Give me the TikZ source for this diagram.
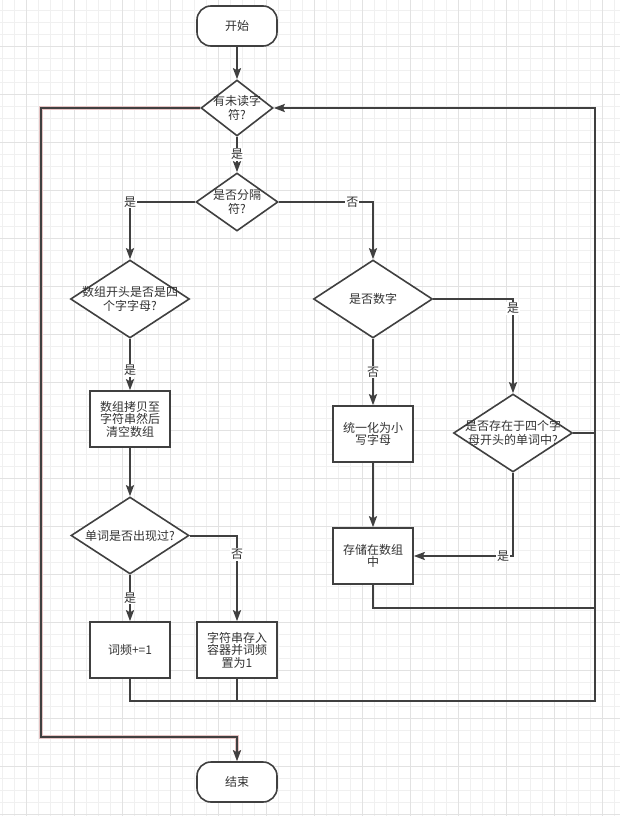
\documentclass[tikz,border=0pt]{standalone}
\usepackage{fontspec}
\setmainfont{Noto Sans CJK SC}
\usetikzlibrary{shapes.geometric,arrows.meta}

\definecolor{linegray}{HTML}{404040}
\definecolor{textgray}{HTML}{333333}
\definecolor{gridminor}{HTML}{F0F0F0}
\definecolor{gridmajor}{HTML}{E2E2E2}
\definecolor{glow}{HTML}{E6C4C4}

% text that may run past the diamond border
\newcommand{\dtext}[1]{\makebox[0pt]{\raisebox{-4.5pt}[0pt][0pt]{\begin{tabular}{@{}c@{}}#1\end{tabular}}}}

\tikzset{
  terminal/.style={draw=linegray, fill=white, line width=1.6pt, rounded corners=14pt,
    minimum width=80pt, minimum height=40pt, text=textgray},
  decision/.style={diamond, draw=linegray, fill=white, line width=1.6pt, inner sep=0pt, text=textgray},
  process/.style={rectangle, draw=linegray, fill=white, line width=1.6pt, minimum width=80pt,
    minimum height=56pt, align=center, inner sep=2pt, text=textgray},
  lbl/.style={fill=white, inner sep=1pt, text=textgray},
  flow/.style={draw=linegray, line width=2pt},
}

\begin{document}
\begin{tikzpicture}[x=1pt, y=-1pt, >={Stealth[length=11pt,width=8pt,inset=2pt]},
    font=\fontsize{12}{12.5}\selectfont]
  \useasboundingbox (0,0) rectangle (620,816);
  \fill[white] (0,0) rectangle (620,816);

  % background grid
  \foreach \x in {2,14,...,614} \draw[gridminor, line width=0.8pt] (\x,0) -- (\x,816);
  \foreach \y in {10,22,...,814} \draw[gridminor, line width=0.8pt] (0,\y) -- (620,\y);
  \foreach \x in {26,74,...,602} \draw[gridmajor, line width=0.8pt] (\x,0) -- (\x,816);
  \foreach \y in {46,94,...,814} \draw[gridmajor, line width=0.8pt] (0,\y) -- (620,\y);

  \node[terminal] (start) at (237,26) {开始};
  \node[decision, minimum width=72pt, minimum height=56pt] (unread) at (237,108) {\dtext{有未读字\\符?}};
  \node[decision, minimum width=82pt, minimum height=58pt] (separator) at (237,202) {\dtext{是否分隔\\符?}};

  \node[decision, minimum width=119pt, minimum height=78pt] (fourletter) at (130,299) {\dtext{数组开头是否是四\\个字字母?}};
  \node[process] (copyarray) at (130,419) {数组拷贝至\\字符串然后\\清空数组};
  \node[decision, minimum width=118pt, minimum height=77pt] (seen) at (130,535.5) {\dtext{单词是否出现过?}};
  \node[process] (count) at (130,650) {词频+=1};
  \node[process] (insert) at (237,650) {字符串存入\\容器并词频\\置为1};

  \node[decision, minimum width=119pt, minimum height=78pt] (isdigit) at (373,299) {\dtext{是否数字}};
  \node[process] (lowercase) at (373,434) {统一化为小\\写字母};
  \node[process] (store) at (373,556) {存储在数组\\中};
  \node[decision, minimum width=119pt, minimum height=78pt] (prefix) at (513,433) {\dtext{是否存在于四个字\\母开头的单词中?}};

  \node[terminal] (stop) at (237,782) {结束};

  \coordinate (leftrail) at (41,737);
  \coordinate (rightrail) at (595,701);
  \coordinate (storejoin) at (595,608);
  \coordinate (prefixjoin) at (595,433);

  \draw[flow, ->] (start) -- (unread);
  \draw[flow, ->] (unread) -- node[lbl] {是} (separator);
  \draw[flow, ->] (separator.west) -| node[lbl] {是} (fourletter.north);
  \draw[flow, ->] (separator.east) -| node[lbl, pos=0.39] {否} (isdigit.north);

  \draw[flow, ->] (fourletter) -- node[lbl, pos=0.62] {是} (copyarray);
  \draw[flow, ->] (copyarray) -- (seen);
  \draw[flow, ->] (seen) -- node[lbl] {是} (count);
  \draw[flow, ->] (seen.east) -| node[lbl, pos=0.61] {否} (insert.north);

  \draw[flow, ->] (isdigit) -- node[lbl] {否} (lowercase);
  \draw[flow, ->] (isdigit.east) -| node[lbl, pos=0.55] {是} (prefix.north);
  \draw[flow, ->] (lowercase) -- (store);
  \draw[flow, ->] (prefix.south) |- node[lbl, pos=0.55] {是} (store.east);

  % back to the loop test
  \draw[flow] (insert.south) -- (insert.south |- rightrail);
  \draw[flow] (store.south) |- (storejoin);
  \draw[flow] (prefix.east) -- (prefixjoin);
  \draw[flow, line width=2.5pt, ->] (count.south) |- (rightrail) |- (unread.east);

  % no characters left
  \draw[flow, ->, preaction={draw=glow, line width=4.5pt}] (unread.west) -| (leftrail) -| (stop.north);
\end{tikzpicture}
\end{document}
